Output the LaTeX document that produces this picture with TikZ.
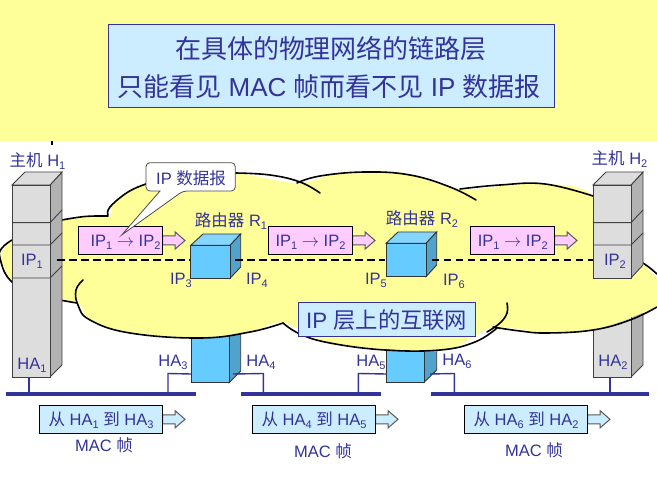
\documentclass[tikz,border=0pt]{standalone}
\usepackage{fontspec}
\setmainfont{Liberation Sans}
\newfontfamily\cjk{Noto Sans CJK SC}
\newcommand{\zh}[1]{{\cjk #1}}
\newcommand{\ssb}[2]{#1\raisebox{-3.2pt}[0pt][0pt]{\fontsize{11}{11}\selectfont #2}}
\definecolor{ink}{HTML}{333399}
\definecolor{band}{HTML}{FFFF99}
\definecolor{lblue}{HTML}{CCECFF}
\definecolor{pinkb}{HTML}{FFCCFF}
\definecolor{gfront}{HTML}{DDDDDD}
\definecolor{gside}{HTML}{B2B2B2}
\definecolor{rfront}{HTML}{66CCFF}
\definecolor{rtop}{HTML}{85D6FF}
\definecolor{rside}{HTML}{52A3CC}
\tikzset{
 lab/.style={text=ink,inner sep=0pt,font=\fontsize{16.5}{16.5}\selectfont},
 framebox/.style={draw=black,line width=0.9pt,inner sep=0pt,font=\fontsize{16.5}{16.5}\selectfont,text=ink},
 cloudline/.style={draw=black,line width=1.6pt,line cap=round},
 bus/.style={fill=ink,draw=none},
 link/.style={draw=ink,line width=1.4pt},
 hostface/.style={draw=black!75,line width=0.9pt},
 rface/.style={draw=black!80,line width=0.9pt},
 ipline/.style={draw=black,line width=2pt,dash pattern=on 7.5pt off 4.5pt},
}
\newcommand{\blockarrow}[3]{% x0, yc, fill
 \draw[draw=black!65,line width=1pt,fill=#3]
  (#1,#2-4.5) -- (#1+12.3,#2-4.5) -- (#1+12.3,#2-8.7) -- (#1+22.3,#2) -- (#1+12.3,#2+8.7) -- (#1+12.3,#2+4.5) -- (#1,#2+4.5) -- cycle;}
\begin{document}
\begin{tikzpicture}[x=1pt,y=-1pt]
\useasboundingbox (0,0) rectangle (657,486);
\fill[white] (0,0) rectangle (657,486);
\fill[band] (0,0) rectangle (657,141);
\draw[black,line width=1.2pt] (52,141) -- (52,145);
% title
\node[draw=ink,fill=lblue,line width=0.8pt,minimum width=446pt,minimum height=83pt,inner sep=0pt] (title) at (331.3,65.8) {};
\node[text=ink,font=\fontsize{26}{26}\selectfont,inner sep=0pt] (t1) at (331,49) {\zh{在具体的物理网络的链路层}};
\node[text=ink,font=\fontsize{26}{26}\selectfont,inner sep=0pt] (t2) at (329,86.5) {\zh{只能看见} MAC \zh{帧而看不见} IP \zh{数据报}};
% lower parts behind cloud
\draw[hostface,fill=gside] (631,300) -- (643,290) -- (643,365) -- (631,377) -- cycle;
\draw[hostface,fill=gfront] (593,300) rectangle (631,377);
\draw[rface,fill=rside] (229,330) -- (240.7,330) -- (240.7,371) -- (229,382.7) -- cycle;
\draw[rface,fill=rfront] (191,330) rectangle (229,382.7);
\draw[rface,fill=rside] (424,330) -- (436.7,330) -- (436.7,370) -- (424,382.3) -- cycle;
\draw[rface,fill=rfront] (386,330) rectangle (424,382.3);
% cloud fill
\fill[band] plot[smooth,tension=0.6] coordinates {
 (0,258) (12,240) (62,220) (108,216) (112,205) (128,192) (146,185) (190,174) (236,173) (297,183)
 (340,173) (400,172) (460,189) (530,184) (593,195) (643,263) (662,285) (662,300) (657,307) (593,330)
 (547,333) (493,328) (447,350) (385,349) (330,344) (283,323) (250,332) (200,338) (130,333) (90,320) (77,303) (35,294) (10,280) (0,258)};
% cloud outlines
\draw[cloudline] plot[smooth,tension=0.7] coordinates {(12,240) (2,248) (0,258) (10,280) (35,294) (77,303)};
\draw[cloudline] plot[smooth,tension=0.7] coordinates {(83,280) (76,290) (78,305) (90,320) (130,333) (200,338) (250,332) (283,323)};
\draw[cloudline] plot[smooth,tension=0.7] coordinates {(62,220) (85,216.5) (108,216)};
\draw[cloudline] plot[smooth,tension=0.7] coordinates {(108,215) (110,207) (128,192) (146,184)};
\draw[cloudline] plot[smooth,tension=0.7] coordinates {(235,173) (270,175) (300,182) (320,193)};
\draw[cloudline] plot[smooth,tension=0.7] coordinates {(297,183) (320,176) (365,172) (410,175) (450,187) (476,200)};
\draw[cloudline] plot[smooth,tension=0.7] coordinates {(460,189) (500,185) (545,184) (593,196)};
\draw[cloudline] plot[smooth,tension=0.7] coordinates {(643,263) (650,268) (657,274)};
\draw[cloudline] plot[smooth,tension=0.7] coordinates {(507,303) (507,313) (500,323) (487,332)};
\draw[cloudline] plot[smooth,tension=0.7] coordinates {(283,323) (300,334) (330,343) (385,350) (440,350) (475,342) (497,328)};
\draw[cloudline] plot[smooth,tension=0.7] coordinates {(493,327) (520,331) (547,333) (593,330) (630,320) (657,307)};
% left host
\draw[hostface,fill=gside] (50,185) -- (62,172) -- (62,365) -- (50,377) -- cycle;
\draw[hostface,fill=gfront] (12,185) -- (25,172) -- (62,172) -- (50,185) -- cycle;
\draw[hostface,fill=gfront] (12,185) rectangle (50,377);
\draw[hostface] (12,222.7) -- (50,222.7) -- (62,210);
\draw[hostface] (12,245) -- (50,245) -- (62,233);
\draw[hostface] (12,278) -- (50,278) -- (62,266);
% right host upper
\draw[hostface,fill=gside] (631,185) -- (643,172) -- (643,265) -- (631,278) -- cycle;
\draw[hostface,fill=gfront] (593,185) -- (606,172) -- (643,172) -- (631,185) -- cycle;
\draw[hostface,fill=gfront] (593,185) rectangle (631,278);
\draw[hostface] (593,222.7) -- (631,222.7) -- (643,210);
\draw[hostface] (593,245) -- (631,245) -- (643,233);
% routers upper
\draw[rface,fill=rtop] (190.7,245.3) -- (203,234) -- (240.7,234) -- (230,245.3) -- cycle;
\draw[rface,fill=rside] (230,245.3) -- (240.7,234) -- (240.7,267) -- (230,278.3) -- cycle;
\draw[rface,fill=rfront] (190.7,245.3) rectangle (230,278.3);
\draw[rface,fill=rtop] (386,243.3) -- (398,232) -- (436.7,232) -- (426,243.3) -- cycle;
\draw[rface,fill=rside] (426,243.3) -- (436.7,232) -- (436.7,265) -- (426,276.7) -- cycle;
\draw[rface,fill=rfront] (386,243.3) rectangle (426,276.7);
% dashed IP line
\coordinate (da) at (57,260); \coordinate (db) at (190,260); \coordinate (dc) at (235,260);
\coordinate (dd) at (385,260); \coordinate (de) at (431.5,260); \coordinate (df) at (593,260);
\draw[ipline] (da) -- (db);
\draw[ipline] (dc) -- (dd);
\draw[ipline] (de) -- (df);
% packets
\blockarrow{162.7}{240.5}{pinkb}
\blockarrow{352.7}{240.5}{pinkb}
\blockarrow{554.7}{240.5}{pinkb}
\node[framebox,fill=pinkb,minimum width=84.4pt,minimum height=27.6pt] (p1) at (120.5,240.5) {\hspace*{10pt}\ssb{IP}{1} $\rightarrow$ \ssb{IP}{2}};
\node[framebox,fill=pinkb,minimum width=84.4pt,minimum height=27.6pt] (p2) at (310.5,240.5) {\ssb{IP}{1} $\rightarrow$ \ssb{IP}{2}};
\node[framebox,fill=pinkb,minimum width=84pt,minimum height=27.6pt] (p3) at (512.7,240.5) {\ssb{IP}{1} $\rightarrow$ \ssb{IP}{2}};
% callout
\draw[draw=black!70,line width=0.8pt,fill=white,rounded corners=4pt]
 (146,162.7) -- (235.3,162.7) -- (235.3,191) -- (183,191) [sharp corners]-- (121.7,235) -- (160,191) [rounded corners=4pt] -- (146,191) -- cycle;
\node[lab] (cl) at (191,178) {IP \zh{数据报}};
% internet box
\node[draw=ink,fill=lblue,line width=0.8pt,inner sep=0pt,minimum width=176.7pt,minimum height=34pt,text=ink,font=\fontsize{22.3}{22.3}\selectfont] (net) at (386.7,319.7) {IP \zh{层上的互联网}};
% labels
\node[lab] (h1) at (37.5,160) {\zh{主机} \ssb{H}{1}};
\node[lab] (h2) at (619.5,158) {\zh{主机} \ssb{H}{2}};
\node[lab] (r1) at (231,220) {\zh{路由器} \ssb{R}{1}};
\node[lab] (r2) at (422,218) {\zh{路由器} \ssb{R}{2}};
\node[lab] (ip1) at (32,260) {\ssb{IP}{1}};
\node[lab] (ip2) at (615,260) {\ssb{IP}{2}};
\node[lab] (ip3) at (181,279) {\ssb{IP}{3}};
\node[lab] (ip4) at (257,279) {\ssb{IP}{4}};
\node[lab] (ip5) at (376,279) {\ssb{IP}{5}};
\node[lab] (ip6) at (454,280) {\ssb{IP}{6}};
\node[lab] (ha1) at (32,364) {\ssb{HA}{1}};
\node[lab] (ha2) at (613,361) {\ssb{HA}{2}};
\node[lab] (ha3) at (173,361) {\ssb{HA}{3}};
\node[lab] (ha4) at (261,361) {\ssb{HA}{4}};
\node[lab] (ha5) at (371,361) {\ssb{HA}{5}};
\node[lab] (ha6) at (457,360) {\ssb{HA}{6}};
% buses
\fill[bus] (6,392) rectangle (196,396);
\fill[bus] (241,392) rectangle (381,396);
\fill[bus] (431,392) rectangle (649,396);
\draw[link] (29,377) -- (29,393);
\draw[link] (168,393) -- (168,373.5) -- (191,374);
\draw[link] (233,374) -- (263.3,373.5) -- (263.3,393);
\draw[link] (358.3,393) -- (358.3,373.5) -- (386,374);
\draw[link] (430,374) -- (454.3,373.5) -- (454.3,393);
\draw[link] (610,377) -- (610,393);
% frames
\blockarrow{162.7}{419.3}{lblue}
\blockarrow{375.7}{419.3}{lblue}
\blockarrow{587.7}{419.3}{lblue}
\node[framebox,fill=lblue,minimum width=123.4pt,minimum height=28pt] (f1) at (101,419.3) {\zh{从} \ssb{HA}{1} \zh{到} \ssb{HA}{3}};
\node[framebox,fill=lblue,minimum width=123.4pt,minimum height=28pt] (f2) at (314,419.3) {\zh{从} \ssb{HA}{4} \zh{到} \ssb{HA}{5}};
\node[framebox,fill=lblue,minimum width=123.4pt,minimum height=28pt] (f3) at (526,419.3) {\zh{从} \ssb{HA}{6} \zh{到} \ssb{HA}{2}};
\node[lab] (m1) at (104,445) {MAC \zh{帧}};
\node[lab] (m2) at (323,451) {MAC \zh{帧}};
\node[lab] (m3) at (534,450) {MAC \zh{帧}};
\end{tikzpicture}
\end{document}
